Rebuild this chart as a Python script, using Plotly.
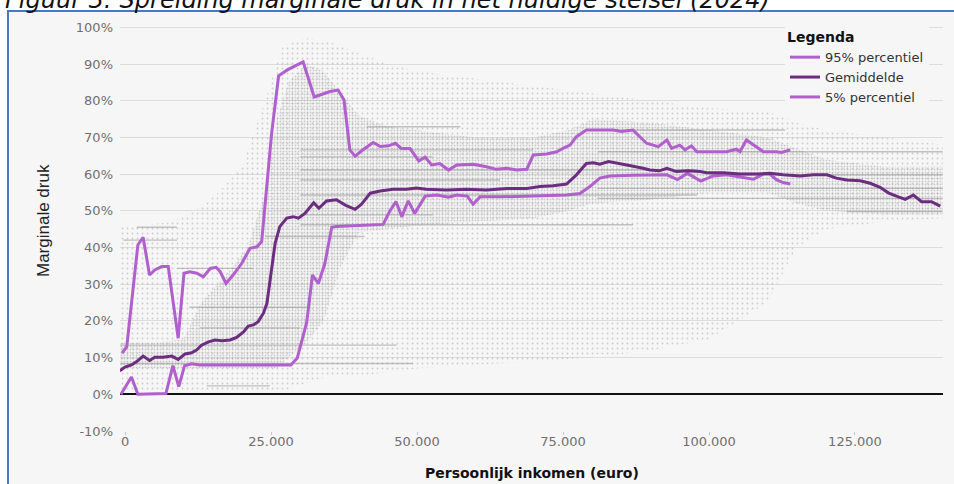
import plotly.graph_objects as go

# ---------------- data (x in thousand euro, y in percent) ----------------
p95_x = [-0.5, 0.3, 2.2, 3.1, 4.2, 5.1, 6.3, 7.4, 9.1, 10.1, 11.1, 12.3, 13.4, 14.6, 15.6, 16.3,
         17.3, 18.5, 20.0, 21.4, 22.6, 23.4, 25.1, 26.3, 27.8, 30.5, 32.4, 35.1, 36.5, 37.5, 38.5,
         39.4, 40.8, 42.5, 43.7, 45.1, 46.3, 47.3, 48.8, 50.3, 51.4, 52.5, 53.9, 55.4, 56.8,
         59.6, 61.9, 63.6, 65.4, 67.1, 68.8, 69.9, 72.2, 73.9, 75.0, 76.2, 77.3, 79.0, 83.6,
         85.0, 87.0, 88.2, 89.3, 91.3, 92.8, 93.6, 95.0, 95.9, 97.0, 97.9, 100.2, 103.0, 104.7,
         105.3, 106.4, 109.3, 111.6, 112.4, 113.9]
p95_y = [11.2, 13.0, 40.7, 42.8, 32.5, 33.9, 34.8, 34.8, 15.3, 33.0, 33.4, 33.0, 32.0, 34.3, 34.6, 33.4,
         30.2, 32.5, 35.7, 39.8, 40.2, 41.6, 71.0, 86.8, 88.4, 90.6, 81.0, 82.5, 82.9, 80.2, 66.6,
         64.9, 66.7, 68.6, 67.5, 67.7, 68.4, 67.0, 67.0, 63.6, 64.6, 62.5, 62.9, 61.1, 62.5,
         62.7, 62.0, 61.3, 61.6, 61.1, 61.3, 65.2, 65.5, 66.1, 67.0, 67.9, 70.2, 72.0, 72.0,
         71.6, 72.0, 70.2, 68.4, 67.5, 69.3, 67.0, 67.9, 66.6, 67.7, 66.1, 66.1, 66.1, 66.8,
         66.1, 69.3, 66.1, 66.1, 65.9, 66.6]

mean_x = [-0.9, 0.0, 1.1, 2.0, 3.1, 4.2, 5.1, 6.5, 8.0, 9.1, 10.3, 11.4, 12.3, 13.1, 14.3, 15.4,
          16.6, 18.0, 19.1, 20.3, 21.1, 22.0, 22.8, 23.7, 24.3, 24.8, 25.7, 26.5, 27.7, 28.8,
          29.7, 30.8, 32.3, 33.2, 34.5, 36.2, 37.8, 39.4, 40.5, 42.0, 43.7, 45.9, 48.2, 49.9,
          51.6, 55.1, 58.5, 61.9, 65.4, 68.8, 71.1, 73.3, 75.6, 77.3, 79.0, 80.2, 81.3, 82.8,
          84.8, 86.8, 88.7, 89.9, 91.5, 92.8, 94.4, 96.4, 98.5, 99.6, 102.5, 105.3, 108.2,
          110.4, 112.7, 115.6, 117.9, 120.2, 121.8, 123.6, 125.9, 127.6, 129.3, 130.7, 132.1,
          133.6, 135.0, 136.4, 138.1, 139.6]
mean_y = [6.4, 7.4, 8.0, 8.9, 10.4, 9.2, 10.1, 10.1, 10.4, 9.5, 11.0, 11.3, 12.1, 13.4, 14.3, 14.8,
          14.6, 14.8, 15.5, 17.0, 18.6, 18.9, 19.8, 22.1, 24.8, 31.0, 41.1, 45.7, 48.0, 48.4,
          48.0, 49.3, 52.2, 50.7, 52.7, 53.0, 51.5, 50.4, 51.8, 54.8, 55.4, 55.9, 55.9, 56.2,
          55.9, 55.7, 55.9, 55.7, 56.1, 56.1, 56.6, 56.8, 57.3, 59.8, 62.9, 63.1, 62.7, 63.4,
          62.7, 62.2, 61.6, 61.1, 60.9, 61.6, 60.7, 60.9, 60.7, 60.4, 60.4, 60.0, 60.0,
          60.2, 59.8, 59.5, 59.8, 59.8, 58.9, 58.4, 58.2, 57.5, 56.4, 54.9, 54.0,
          53.1, 54.3, 52.5, 52.5, 51.3]

p5_x = [-0.7, 1.1, 2.2, 7.0, 8.2, 9.2, 10.2, 11.4, 12.8, 20.0, 28.4, 29.5, 31.1, 32.1, 33.1, 34.2,
        35.4, 36.2, 44.2, 45.3, 46.4, 47.4, 48.5, 49.6, 50.5, 51.4, 53.4, 55.4, 56.8, 58.6,
        59.6, 60.8, 64.2, 69.9, 75.6, 77.9, 79.6, 81.3, 83.0, 87.0, 92.8, 94.6, 96.3, 98.6,
        100.7, 103.0, 105.3, 107.6, 109.3, 110.4, 111.6, 112.7, 113.9]
p5_y = [0.0, 4.7, 0.0, 0.2, 7.8, 2.1, 7.8, 8.3, 8.0, 8.0, 8.0, 9.9, 19.5, 32.5, 30.2, 35.5,
        45.5, 45.7, 46.3, 49.8, 52.5, 48.4, 52.7, 49.3, 51.6, 54.0, 54.3, 53.7, 54.3, 54.0,
        51.8, 53.8, 53.8, 54.0, 54.3, 54.7, 56.6, 58.9, 59.5, 59.7, 59.8, 58.5, 60.2, 58.1,
        59.5, 59.8, 59.1, 58.6, 60.0, 60.0, 58.4, 57.7, 57.3]

# scatter cloud envelopes
cloud_x = [-1, 3, 8, 12, 16, 20, 24, 27, 31, 35, 40, 45, 50, 60, 70, 80, 90, 100, 110, 115, 120, 130, 140]
cloud_hi = [46, 46, 47, 50, 55, 62, 80, 95, 97, 96, 93, 90, 88, 86, 84, 82, 80, 78, 77, 74, 72, 70, 68]
cloud_lo = [1, 1, 1, 1, 1, 1, 1, 1, 3, 5, 5, 6, 7, 8, 9, 10, 12, 15, 25, 40, 45, 47, 48]

core_x = [-1, 5, 10, 13, 17, 21, 24, 26, 28, 31, 34, 37, 40, 45, 50, 60, 70, 76, 80, 90, 100, 110, 115, 120, 130, 140]
core_hi = [14, 14, 15, 25, 32, 40, 55, 75, 85, 90, 88, 82, 76, 73, 72, 70, 70, 72, 75, 74, 72, 70, 67, 64, 62, 62]
core_lo = [7, 7, 7, 7, 7, 7, 7, 7, 10, 14, 20, 35, 44, 45, 46, 47, 48, 50, 52, 53, 55, 55, 52, 50, 49, 49]

# horizontal streaks in the cloud: start x, end x, level
streak_x0 = [-1, -1, 12.8, 11, 14, -0.3, 2, 9, 41.4, 30, 30, 30, 30, 30, 30, 30, 24, 81, 81, 100, 81, 81, 123.6]
streak_x1 = [46.5, 49.3, 30, 31.7, 24.8, 8.9, 8.9, 21.9, 57.4, 69.9, 52.7, 98, 64.2, 98, 52.7, 87, 41, 113, 140, 140, 140, 140, 140]
streak_y = [13.4, 8.4, 18.1, 23.7, 2.3, 42, 45.5, 34.3, 72.9, 66.6, 64.7, 61.1, 58.4, 54.3, 48.9, 46.2, 43, 72, 66.1, 59.8, 56.1, 53.4, 49.8]

x_tickvals = [0, 25, 50, 75, 100, 125]
x_ticktext = ["0", "25.000", "50.000", "75.000", "100.000", "125.000"]
y_tickvals = [-10, 0, 10, 20, 30, 40, 50, 60, 70, 80, 90, 100]
y_ticktext = ["-10%", "0%", "10%", "20%", "30%", "40%", "50%", "60%", "70%", "80%", "90%", "100%"]

names = ["95% percentiel", "Gemiddelde", "5% percentiel"]
title_text = "Figuur 3: Spreiding marginale druk in het huidige stelsel (2024)"

# ---------------- figure ----------------
LIGHT = "#B15FCC"
DARK = "#6C2D80"
BG = "#F6F6F6"

fig = go.Figure()

fig.add_trace(go.Scatter(
    x=cloud_x + cloud_x[::-1], y=cloud_hi + cloud_lo[::-1], fill="toself",
    mode="lines", line=dict(width=0), fillcolor="rgba(0,0,0,0)",
    fillpattern=dict(shape=".", size=5, solidity=0.1, fgcolor="rgba(125,125,125,0.7)",
                     bgcolor="rgba(0,0,0,0)"),
    hoverinfo="skip", showlegend=False))
fig.add_trace(go.Scatter(
    x=core_x + core_x[::-1], y=core_hi + core_lo[::-1], fill="toself",
    mode="lines", line=dict(width=0), fillcolor="rgba(0,0,0,0)",
    fillpattern=dict(shape=".", size=3, solidity=0.28, fgcolor="rgba(125,125,125,0.75)",
                     bgcolor="rgba(0,0,0,0)"),
    hoverinfo="skip", showlegend=False))

sx, sy = [], []
for a, b, v in zip(streak_x0, streak_x1, streak_y):
    sx += [a, b, None]
    sy += [v, v, None]
fig.add_trace(go.Scatter(x=sx, y=sy, mode="lines",
                         line=dict(color="rgba(140,140,140,0.5)", width=1.4),
                         hoverinfo="skip", showlegend=False))

fig.add_trace(go.Scatter(x=p5_x, y=p5_y, mode="lines", name=names[2], legendrank=3,
                         line=dict(color=LIGHT, width=3)))
fig.add_trace(go.Scatter(x=p95_x, y=p95_y, mode="lines", name=names[0], legendrank=1,
                         line=dict(color=LIGHT, width=3)))
fig.add_trace(go.Scatter(x=mean_x, y=mean_y, mode="lines", name=names[1], legendrank=2,
                         line=dict(color=DARK, width=3)))

L, R, T, B = 120, 11, 21, 53
W, H = 954, 484
pw, ph = W - L - R, H - T - B

def px2paper_x(p):
    return (p - L) / pw

def px2paper_y(p):
    return (H - B - p) / ph

fig.update_layout(
    width=W, height=H,
    margin=dict(l=L, r=R, t=T, b=B),
    paper_bgcolor="white", plot_bgcolor=BG,
    font=dict(family="DejaVu Sans", size=13, color="#707070"),
    xaxis=dict(range=[-0.86, 140.07], tickvals=x_tickvals, ticktext=x_ticktext,
               showgrid=False, zeroline=False, showline=False,
               ticks="outside", ticklen=3, tickcolor="#C8C8C8", ticklabelstandoff=-5,
               tickfont=dict(size=13, color="#707070")),
    yaxis=dict(range=[-10, 101.72], tickvals=y_tickvals, ticktext=y_ticktext,
               showgrid=True, gridcolor="#DCDCDC", gridwidth=1,
               zeroline=True, zerolinecolor="#111111", zerolinewidth=1.6,
               showline=False, ticks="", ticklabelstandoff=6,
               tickfont=dict(size=13, color="#707070")),
    legend=dict(x=px2paper_x(785), y=px2paper_y(24), xanchor="left", yanchor="top",
                bgcolor=BG, borderwidth=0, tracegroupgap=0,
                title=dict(text="<b>Legenda</b>", font=dict(size=14, color="#111111")),
                font=dict(size=13, color="#333333")),
    shapes=[dict(type="rect", xref="paper", yref="paper",
                 x0=px2paper_x(8), x1=px2paper_x(965), y0=px2paper_y(495), y1=px2paper_y(11),
                 fillcolor=BG, line=dict(color="#4A78C8", width=2), layer="below")],
    annotations=[
        dict(text=title_text, xref="paper", yref="paper", x=px2paper_x(3), y=px2paper_y(0),
             xanchor="left", yanchor="middle", showarrow=False,
             font=dict(family="DejaVu Sans", size=24, style="italic", color="#111111")),
        dict(text="Marginale druk", xref="paper", yref="paper", x=px2paper_x(43), y=px2paper_y(221),
             xanchor="center", yanchor="middle", textangle=-90, showarrow=False,
             font=dict(family="Liberation Sans Narrow, Liberation Sans, sans-serif", size=17, color="#222222")),
        dict(text="<b>Persoonlijk inkomen (euro)</b>", xref="paper", yref="paper",
             x=px2paper_x(532), y=px2paper_y(473), xanchor="center", yanchor="middle",
             showarrow=False, font=dict(family="DejaVu Sans", size=14, color="#111111")),
    ],
)

fig.write_html("out.html")
